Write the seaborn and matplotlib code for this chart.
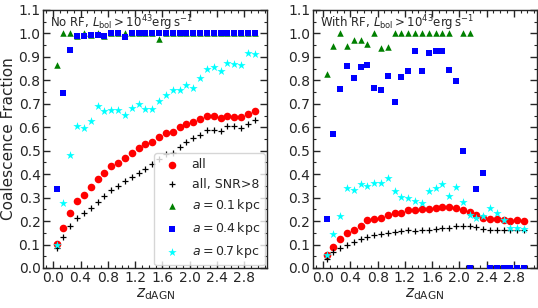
import numpy as np
import pandas as pd
import matplotlib
matplotlib.use("Agg")
import matplotlib.pyplot as plt
import seaborn as sns
from matplotlib.ticker import MultipleLocator

# redshift bins
z = [0.05, 0.15, 0.25, 0.35, 0.45, 0.55, 0.65, 0.75, 0.85, 0.95,
     1.05, 1.15, 1.25, 1.35, 1.45, 1.55, 1.65, 1.75, 1.85, 1.95,
     2.05, 2.15, 2.25, 2.35, 2.45, 2.55, 2.65, 2.75, 2.85, 2.95]

# no RF panel
norf_all = [0.104, 0.171, 0.234, 0.284, 0.313, 0.346, 0.381, 0.403, 0.433, 0.447,
            0.469, 0.490, 0.513, 0.529, 0.539, 0.560, 0.577, 0.581, 0.600, 0.616,
            0.624, 0.636, 0.646, 0.646, 0.639, 0.650, 0.643, 0.643, 0.657, 0.669]
norf_snr = [0.086, 0.133, 0.179, 0.211, 0.236, 0.257, 0.283, 0.306, 0.333, 0.350,
            0.369, 0.386, 0.406, 0.421, 0.443, 0.464, 0.486, 0.490, 0.514, 0.536,
            0.553, 0.567, 0.590, 0.590, 0.583, 0.604, 0.604, 0.597, 0.614, 0.633]
norf_a01 = [0.867, 1.0, 1.0, 0.99, 1.0, 0.995, 1.0, 0.99, 1.0, 1.0,
            1.0, 1.0, 1.0, 1.0, 1.0, 0.976, 1.0, 1.0, 1.0, 1.0,
            1.0, 1.0, 1.0, 1.0, 1.0, 1.0, 1.0, 1.0, 1.0, 1.0]
norf_a04 = [0.337, 0.747, 0.930, 0.989, 0.989, 0.993, 0.994, 0.991, 1.0, 1.0,
            0.986, 1.0, 1.0, 1.0, 1.0, 1.0, 1.0, 1.0, 1.0, 1.0,
            1.0, 1.0, 1.0, 1.0, 1.0, 1.0, 1.0, 1.0, 1.0, 1.0]
norf_a07 = [0.100, 0.276, 0.483, 0.605, 0.597, 0.628, 0.690, 0.671, 0.672, 0.675,
            0.654, 0.680, 0.700, 0.676, 0.678, 0.714, 0.736, 0.757, 0.757, 0.779,
            0.767, 0.810, 0.850, 0.857, 0.840, 0.874, 0.868, 0.866, 0.918, 0.913]

# with RF panel
rf_all = [0.054, 0.090, 0.124, 0.149, 0.160, 0.177, 0.203, 0.209, 0.214, 0.224,
          0.234, 0.236, 0.249, 0.246, 0.253, 0.250, 0.256, 0.261, 0.260, 0.254,
          0.246, 0.239, 0.226, 0.214, 0.209, 0.209, 0.203, 0.200, 0.203, 0.200]
rf_snr = [0.040, 0.069, 0.087, 0.097, 0.111, 0.123, 0.134, 0.140, 0.144, 0.149,
          0.153, 0.157, 0.160, 0.157, 0.164, 0.164, 0.167, 0.169, 0.171, 0.181,
          0.179, 0.179, 0.174, 0.167, 0.164, 0.164, 0.160, 0.160, 0.164, 0.161]
rf_a01 = [0.829, 0.947, 1.0, 0.947, 0.974, 0.971, 0.957, 1.0, 0.940, 0.943,
          1.0, 1.0, 1.0, 1.0, 1.0, 1.0, 1.0, 1.0, 1.0, np.nan,
          1.0, 1.0, np.nan, np.nan, np.nan, np.nan, np.nan, np.nan, np.nan, np.nan]
rf_a04 = [0.210, 0.571, 0.764, 0.860, 0.810, 0.857, 0.867, 0.769, 0.757, 0.819,
          0.709, 0.816, 0.840, 0.926, 0.840, 0.917, 0.924, 0.924, 0.844, 0.799,
          0.500, 0.0, 0.336, 0.404, 0.0, 0.0, 0.0, 0.0, 0.0, 0.0]
rf_a07 = [0.056, 0.143, 0.220, 0.343, 0.331, 0.360, 0.351, 0.363, 0.364, 0.384,
          0.329, 0.304, 0.297, 0.284, 0.276, 0.329, 0.343, 0.359, 0.307, 0.347,
          0.281, 0.226, 0.214, 0.221, 0.254, 0.233, 0.203, 0.171, 0.171, 0.166]

labels = ["all", "all, SNR>8", r"$a=0.1\,{\rm kpc}$", r"$a=0.4\,{\rm kpc}$", r"$a=0.7\,{\rm kpc}$"]
colors = ["red", "black", "green", "blue", "cyan"]
markers = ["o", "+", "^", "s", "*"]
sizes = [30, 22, 22, 20, 40]

sns.set_style("ticks")
plt.rcParams["font.family"] = ["DejaVu Sans"]
plt.rcParams["mathtext.fontset"] = "dejavusans"
plt.rcParams["xtick.direction"] = "in"
plt.rcParams["ytick.direction"] = "in"
plt.rcParams["xtick.top"] = True
plt.rcParams["ytick.right"] = True
plt.rcParams["xtick.minor.visible"] = True
plt.rcParams["ytick.minor.visible"] = True

fig = plt.figure(figsize=(5.38, 3.08), dpi=100)
ax1 = fig.add_axes([0.0805, 0.1299, 0.4164, 0.8377])
ax2 = fig.add_axes([0.5823, 0.1299, 0.4152, 0.8377])

panels = [(ax1, [norf_all, norf_snr, norf_a01, norf_a04, norf_a07], "No RF"),
          (ax2, [rf_all, rf_snr, rf_a01, rf_a04, rf_a07], "With RF")]

for ax, series, title in panels:
    for vals, lab, c, m, s in zip(series, labels, colors, markers, sizes):
        df = pd.DataFrame({"z": z, "f": vals}).dropna()
        if m == "+":
            sns.scatterplot(data=df, x="z", y="f", ax=ax, marker=m, color=c,
                            s=s, linewidth=0.9, label=lab, zorder=3)
        else:
            sns.scatterplot(data=df, x="z", y="f", ax=ax, marker=m, color=c,
                            s=s, linewidth=0, label=lab, zorder=3)
    ax.set_xlim(-0.145, 3.135)
    ax.set_ylim(0, 1.1)
    ax.xaxis.set_major_locator(MultipleLocator(0.4))
    ax.xaxis.set_minor_locator(MultipleLocator(0.1))
    ax.yaxis.set_major_locator(MultipleLocator(0.1))
    ax.yaxis.set_minor_locator(MultipleLocator(0.05))
    ax.tick_params(which="major", length=5, width=1, labelsize=10, pad=2)
    ax.tick_params(which="minor", length=2.5, width=0.8)
    for sp in ax.spines.values():
        sp.set_linewidth(1)
    ax.set_xlabel(r"$z_{\rm dAGN}$", fontsize=11, labelpad=1)
    ax.set_ylabel("")
    ax.text(0.03, 0.985, title + r", $L_{\rm bol}>10^{43}{\rm erg\,s^{-1}}$",
            transform=ax.transAxes, ha="left", va="top", fontsize=8.5)

ax1.set_ylabel("Coalescence Fraction", fontsize=11, labelpad=2)
ax1.legend(loc="lower right", fontsize=9, numpoints=1, scatterpoints=1,
           borderaxespad=0.2, handletextpad=0.6, frameon=True)
ax2.get_legend().remove()

fig.savefig("out.png", dpi=100)
